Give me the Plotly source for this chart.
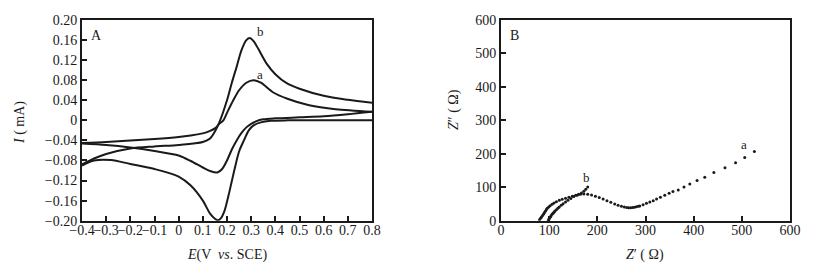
import plotly.graph_objects as go

# ---------------- Panel A: cyclic voltammograms ----------------
E_a_fwd = [-0.4, -0.3, -0.2, -0.1, 0.0, 0.05, 0.1, 0.13, 0.15, 0.17, 0.185, 0.2, 0.226, 0.25, 0.28, 0.31, 0.34, 0.39, 0.45, 0.54, 0.65, 0.8]
I_a_fwd = [-0.045, -0.043, -0.040, -0.037, -0.033, -0.030, -0.026, -0.021, -0.016, -0.006, 0.0, 0.015, 0.040, 0.060, 0.075, 0.080, 0.075, 0.056, 0.043, 0.030, 0.022, 0.017]
E_a_rev = [0.8, 0.7, 0.6, 0.5, 0.4, 0.35, 0.32, 0.3, 0.28, 0.26, 0.24, 0.22, 0.2, 0.18, 0.16, 0.13, 0.1, 0.05, 0.0, -0.1, -0.2, -0.3, -0.4]
I_a_rev = [0.017, 0.012, 0.008, 0.006, 0.004, 0.002, -0.002, -0.007, -0.014, -0.025, -0.040, -0.058, -0.080, -0.097, -0.104, -0.101, -0.094, -0.081, -0.070, -0.061, -0.054, -0.049, -0.046]

E_b_fwd = [-0.4, -0.35, -0.3, -0.2, -0.1, 0.0, 0.1, 0.13, 0.15, 0.17, 0.2, 0.22, 0.24, 0.26, 0.28, 0.295, 0.31, 0.33, 0.364, 0.4, 0.447, 0.5, 0.6, 0.7, 0.8]
I_b_fwd = [-0.088, -0.076, -0.067, -0.056, -0.052, -0.049, -0.043, -0.036, -0.022, -0.002, 0.040, 0.075, 0.107, 0.140, 0.160, 0.164, 0.158, 0.142, 0.113, 0.092, 0.074, 0.063, 0.049, 0.041, 0.035]
E_b_rev = [0.8, 0.6, 0.45, 0.38, 0.34, 0.31, 0.29, 0.27, 0.25, 0.23, 0.21, 0.19, 0.175, 0.163, 0.15, 0.13, 0.1, 0.05, 0.0, -0.1, -0.2, -0.28, -0.35, -0.4]
I_b_rev = [0.0, 0.0, 0.0, -0.001, -0.004, -0.010, -0.020, -0.040, -0.062, -0.100, -0.142, -0.180, -0.195, -0.199, -0.196, -0.186, -0.160, -0.130, -0.112, -0.097, -0.087, -0.079, -0.080, -0.090]

A_xticks = [-0.4, -0.3, -0.2, -0.1, 0.0, 0.1, 0.2, 0.3, 0.4, 0.5, 0.6, 0.7, 0.8]
A_xticktext = ["\u22120.4", "\u22120.3", "\u22120.2", "\u22120.1", "0", "0.1", "0.2", "0.3", "0.4", "0.5", "0.6", "0.7", "0.8"]
A_yticks = [0.20, 0.16, 0.12, 0.08, 0.04, 0.0, -0.04, -0.08, -0.12, -0.16, -0.20]
A_yticktext = ["0.20", "0.16", "0.12", "0.08", "0.04", "0", "\u22120.04", "\u22120.08", "\u22120.12", "\u22120.16", "\u22120.20"]

# ---------------- Panel B: Nyquist plots ----------------
Zre_a = [98, 99, 100, 101, 103, 104, 106, 108, 110, 112, 115, 118, 121, 125, 129, 134, 139, 145, 151, 158, 165, 172, 180, 188, 196, 204, 212, 220, 228, 236, 243, 250, 256, 261, 265, 269, 273, 277, 281, 285,
         288, 295, 302, 309, 316, 323, 331, 340, 349, 357, 368, 380, 392, 407, 423, 442, 465, 487, 506, 526]
Zim_a = [0, 3, 6, 9, 12, 15, 19, 22, 25, 29, 33, 37, 41, 46, 51, 56, 61, 66, 72, 76, 79, 80, 79, 77, 73, 69, 65, 60, 55, 50, 46, 43, 41, 39.5, 39, 39, 39.5, 40.5, 42, 43,
         44, 48, 52, 56, 60, 65, 70, 76, 82, 87, 92, 101, 110, 120, 130, 144, 158, 173, 189, 207]
Zre_b = [80, 82, 84, 86, 88, 90, 92, 94, 96, 99, 102, 106, 110, 115, 121, 127, 134, 141, 148, 155, 161, 167, 172, 176, 180]
Zim_b = [3, 7, 11, 15, 19, 24, 28, 33, 37, 41, 45, 49, 53, 57, 61, 64, 67, 70, 73, 76, 79, 83, 88, 94, 101]

B_ticks_x = [0, 100, 200, 300, 400, 500, 600]
B_ticks_y = [0, 100, 200, 300, 400, 500, 600]

# page body has an 8px default margin: size the figure to fit and offset coordinates
OFF = 8
W, H = 818 - OFF, 280 - OFF
ink = "#1a1a1a"
serif = "Liberation Serif"


def fx(px):
    return (px - OFF) / W


def fy(py):
    return 1 - (py - OFF) / H


fig = go.Figure()
for E, I in [(E_a_fwd, I_a_fwd), (E_a_rev, I_a_rev), (E_b_fwd, I_b_fwd), (E_b_rev, I_b_rev)]:
    fig.add_trace(go.Scatter(x=E, y=I, mode="lines", line=dict(color=ink, width=2, shape="spline", smoothing=0.8),
                             xaxis="x", yaxis="y", showlegend=False, hoverinfo="skip"))
for zr, zi in [(Zre_a, Zim_a), (Zre_b, Zim_b)]:
    fig.add_trace(go.Scatter(x=zr, y=zi, mode="markers", marker=dict(color=ink, size=3),
                             xaxis="x2", yaxis="y2", showlegend=False, hoverinfo="skip"))

axis_common = dict(showgrid=False, zeroline=False, showline=True, linecolor=ink, linewidth=2, mirror=True,
                   ticks="inside", ticklen=5, tickwidth=1.5, tickcolor=ink, tickangle=0, automargin=False,
                   tickfont=dict(family=serif, size=14, color=ink))

ydom = [fy(220.7), fy(20)]

fig.update_layout(
    width=W, height=H,
    margin=dict(l=0, r=0, t=0, b=0),
    paper_bgcolor="white", plot_bgcolor="white",
    xaxis=dict(domain=[fx(82), fx(372)], range=[-0.4, 0.8], tickvals=A_xticks, ticktext=A_xticktext, anchor="y",
               ticklabelstandoff=-5, **axis_common),
    yaxis=dict(domain=ydom, range=[-0.2, 0.2], tickvals=A_yticks, ticktext=A_yticktext, anchor="x", **axis_common),
    xaxis2=dict(domain=[fx(501), fx(790)], range=[0, 600], tickvals=B_ticks_x, anchor="y2",
                ticklabelstandoff=-5, **axis_common),
    yaxis2=dict(domain=ydom, range=[0, 600], tickvals=B_ticks_y, anchor="x2", **axis_common),
)

lab = dict(family=serif, size=14, color=ink)
small = dict(family=serif, size=13, color=ink)
c = dict(showarrow=False, xanchor="center", yanchor="middle")
ann = [
    dict(x=-0.338, y=0.17, xref="x", yref="y", text="A", font=lab, **c),
    dict(x=0.337, y=0.178, xref="x", yref="y", text="b", font=small, **c),
    dict(x=0.337, y=0.091, xref="x", yref="y", text="a", font=small, **c),
    dict(x=28, y=555, xref="x2", yref="y2", text="B", font=lab, **c),
    dict(x=177, y=128, xref="x2", yref="y2", text="b", font=small, **c),
    dict(x=504, y=229, xref="x2", yref="y2", text="a", font=small, **c),
    dict(x=fx(227), y=fy(255), xref="paper", yref="paper", text="<i>E</i>(V  <i>vs</i>. SCE)", font=lab, **c),
    dict(x=fx(20), y=fy(123), xref="paper", yref="paper", text="<i>I</i> ( mA)", textangle=-90, font=lab, **c),
    dict(x=fx(645), y=fy(255), xref="paper", yref="paper", text="<i>Z</i>\u2032 ( \u03a9)", font=lab, **c),
    dict(x=fx(454), y=fy(110), xref="paper", yref="paper", text="<i>Z</i>\u2033 ( \u03a9)", textangle=-90, font=lab, **c),
]
fig.update_layout(annotations=ann)

fig.write_html("out.html")
